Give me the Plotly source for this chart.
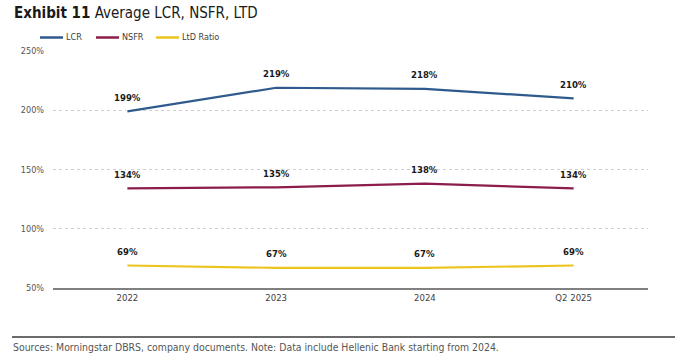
import plotly.graph_objects as go

categories = ["2022", "2023", "2024", "Q2 2025"]
lcr = [199, 219, 218, 210]
nsfr = [134, 135, 138, 134]
ltd = [69, 67, 67, 69]
series_names = ["LCR", "NSFR", "LtD Ratio"]
series_values = [lcr, nsfr, ltd]
series_colors = ["#2F5A8E", "#8C1C4B", "#EBC51E"]
y_ticks = [50, 100, 150, 200, 250]
y_tick_labels = ["50%", "100%", "150%", "200%", "250%"]

FONT = "Liberation Sans Narrow, DejaVu Sans Condensed, Arial Narrow, sans-serif"
W, H = 680, 354
ML, MR, MT, MB = 53, 32, 51, 66
PW = W - ML - MR


def px(xp):
    return (xp - ML) / PW


def py(yp):
    return 1 - (yp - MT) / (H - MT - MB)


fig = go.Figure()
for name, vals, col in zip(series_names, series_values, series_colors):
    fig.add_trace(go.Scatter(
        x=list(range(len(categories))), y=vals, mode="lines", name=name,
        line=dict(color=col, width=2.2), showlegend=False,
        hoverinfo="skip"))
    for i, v in enumerate(vals):
        fig.add_annotation(
            x=i, y=v, xref="x", yref="y", text=f"<b>{v}%</b>",
            showarrow=False, yshift=14, xanchor="center", yanchor="middle",
            font=dict(family=FONT, size=9.5, color="#1a1a1a"))

# legend (manual)
leg_x = [40, 96, 156]
for (lx, name, col) in zip(leg_x, series_names, series_colors):
    fig.add_shape(type="line", xref="paper", yref="paper",
                  x0=px(lx), x1=px(lx + 23), y0=py(37.5), y1=py(37.5),
                  line=dict(color=col, width=2.5))
    fig.add_annotation(x=px(lx + 24), y=py(37.5), xref="paper", yref="paper",
                       text=name, showarrow=False, xanchor="left",
                       yanchor="middle",
                       font=dict(family=FONT, size=9, color="#404040"))

# title
fig.add_annotation(x=px(12), y=py(13), xref="paper", yref="paper",
                   text="<b>Exhibit 11</b> Average LCR, NSFR, LTD",
                   showarrow=False, xanchor="left", yanchor="middle",
                   font=dict(family=FONT, size=15, color="#1a1a1a"))

# footer rule and note
fig.add_shape(type="line", xref="paper", yref="paper",
              x0=px(12), x1=px(675), y0=py(337), y1=py(337),
              line=dict(color="#3a3a3a", width=1.5))
fig.add_annotation(x=px(11), y=py(347), xref="paper", yref="paper",
                   text="Sources: Morningstar DBRS, company documents. Note: Data include Hellenic Bank starting from 2024.",
                   showarrow=False, xanchor="left", yanchor="middle",
                   font=dict(family=FONT, size=10.4, color="#555555"))

fig.update_layout(
    width=W, height=H,
    margin=dict(l=ML, r=MR, t=MT, b=MB),
    paper_bgcolor="white", plot_bgcolor="white",
    font=dict(family=FONT, color="#555555"),
    xaxis=dict(range=[-0.5, 3.5], tickvals=list(range(len(categories))),
               ticktext=categories, showgrid=False, showline=True,
               linecolor="#808080", linewidth=2, ticks="",
               tickfont=dict(family=FONT, size=9.5, color="#404040"),
               fixedrange=True),
    yaxis=dict(range=[50, 250], tickvals=y_ticks, ticktext=y_tick_labels,
               showgrid=True, gridcolor="#cfcfcf", griddash="dot",
               gridwidth=1, zeroline=False, showline=False,
               tickfont=dict(family=FONT, size=9, color="#555555"),
               ticklabelstandoff=8, fixedrange=True),
)

fig.write_html("out.html")
